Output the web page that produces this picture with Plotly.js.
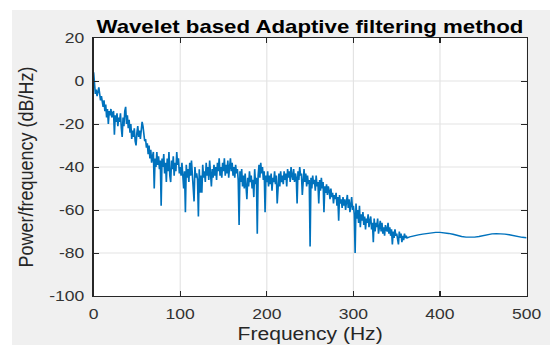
<!DOCTYPE html>
<html>
<head>
<meta charset="utf-8">
<script src="https://cdn.plot.ly/plotly-3.0.1.min.js"></script>
<style>
  html, body { margin: 0; padding: 0; background: #ffffff; overflow: hidden; }
  #chart { width: 470px; height: 345px; transform: scaleX(1.1702); transform-origin: 0 0; }
  #chart .gridlayer path { shape-rendering: geometricPrecision !important; }
</style>
</head>
<body>
<div id="chart"></div>
<script>
// Noisy part of the PSD: one value per 1 Hz bin, starting at 0 Hz (dB/Hz)
const noisyStartHz = 0;
const noisyStepHz = 1;
const psdNoisy = [
  4, -2, -6, -4, -7, -5, -3, -6, -9, -7,
  -10, -12, -9, -14, -11, -17, -13, -20, -14, -16,
  -13, -17, -15, -14, -25, -16, -19, -15, -21, -17,
  -19, -15, -22, -26, -17, -21, -14, -12, -20, -16,
  -22, -18, -24, -20, -27, -23, -26, -22, -28, -30,
  -24, -21, -26, -23, -27, -22, -19, -21, -25, -28,
  -27, -31, -29, -34, -30, -36, -32, -38, -35, -33,
  -50, -36, -40, -33, -39, -35, -41, -37, -58, -36,
  -40, -34, -43, -38, -47, -36, -42, -33, -44, -47,
  -37, -41, -35, -44, -38, -42, -33, -39, -36, -43,
  -40, -44, -38, -46, -50, -42, -61, -39, -45, -41,
  -47, -38, -44, -37, -42, -48, -56, -40, -45, -43,
  -46, -63, -41, -52, -44, -52, -39, -45, -42, -47,
  -38, -44, -40, -46, -37, -43, -49, -41, -45, -39,
  -44, -40, -46, -38, -42, -36, -44, -40, -45, -38,
  -42, -36, -44, -39, -43, -37, -45, -40, -36, -42,
  -38, -44, -40, -45, -39, -43, -41, -46, -67, -42,
  -47, -41, -49, -44, -50, -43, -48, -55, -45, -49,
  -42, -47, -44, -50, -46, -54, -41, -48, -45, -71,
  -44, -39, -45, -38, -43, -40, -46, -42, -61, -44,
  -47, -42, -49, -44, -48, -43, -51, -45, -47, -42,
  -48, -44, -57, -46, -43, -49, -42, -47, -44, -48,
  -42, -46, -43, -49, -41, -45, -42, -47, -40, -44,
  -46, -41, -47, -43, -45, -57, -42, -46, -40, -44,
  -43, -53, -45, -41, -47, -43, -49, -44, -48, -46,
  -77, -45, -50, -44, -48, -46, -51, -44, -49, -47,
  -57, -46, -51, -45, -50, -47, -61, -49, -52, -48,
  -53, -49, -51, -55, -50, -54, -52, -57, -53, -55,
  -52, -58, -54, -65, -53, -57, -55, -59, -54, -58,
  -55, -60, -56, -53, -59, -55, -61, -57, -54, -60,
  -58, -62, -80, -57, -64, -60, -66, -58, -68, -62,
  -65, -61, -67, -63, -69, -64, -66, -62, -68, -65,
  -63, -69, -66, -75, -64, -70, -66, -68, -64, -71,
  -67, -65, -70, -66, -71, -68, -72, -67, -69, -70,
  -66, -71, -68, -72, -69, -76, -70, -73, -69, -72,
  -71, -74, -76, -70, -73, -71, -75, -72, -74, -71,
  -73, -72, -73
];

// Smooth tail of the PSD (Hz, dB/Hz)
const freqTail = [365, 370, 375, 380, 385, 390, 395, 400, 405, 410, 415, 420, 425, 430, 435,
                  440, 445, 450, 455, 460, 465, 470, 475, 480, 485, 490, 495, 500];
const psdTail = [-72.5, -72.2, -71.6, -71.2, -70.9, -70.6, -70.4, -70.4, -70.5, -70.9, -71.3, -71.9, -72.3, -72.6, -72.7,
                 -72.6, -72.3, -71.8, -71.3, -71.1, -71.0, -71.0, -71.2, -71.5, -72.0, -72.4, -72.7, -72.9];

const xTickVals = [0, 100, 200, 300, 400, 500];
const yTickVals = [-100, -80, -60, -40, -20, 0, 20];

const freq = psdNoisy.map((_, i) => noisyStartHz + i * noisyStepHz).concat(freqTail);
const psd = psdNoisy.concat(psdTail);

const axisColor = '#262626';
const gridColor = '#e3e3e3';
const fontFam = '"Liberation Sans", Arial, Helvetica, sans-serif';

const trace = {
  x: freq, y: psd, type: 'scatter', mode: 'lines',
  line: { color: '#0072BD', width: 1.4 },
  hoverinfo: 'skip'
};

const layout = {
  width: 470, height: 345,
  margin: { l: 80, r: 20, t: 38, b: 49 },
  paper_bgcolor: '#f0f0f0',
  plot_bgcolor: '#ffffff',
  showlegend: false,
  font: { family: fontFam, color: axisColor, size: 15 },
  title: {
    text: '<b>Wavelet based Adaptive filtering method</b>',
    font: { family: fontFam, size: 19, color: '#000000' },
    x: 0.5635, xref: 'container', xanchor: 'center',
    y: 1 - 26 / 345, yref: 'container', yanchor: 'middle'
  },
  xaxis: {
    range: [0, 500], tickvals: xTickVals, ticktext: xTickVals.map(String),
    ticks: 'inside', ticklen: 5, tickcolor: axisColor, tickwidth: 1,
    showline: true, linecolor: axisColor, linewidth: 1, mirror: 'ticks',
    showgrid: true, gridcolor: gridColor, gridwidth: 1, zeroline: false,
    tickfont: { family: fontFam, size: 15, color: '#333333' },
    ticklabelstandoff: 4
  },
  yaxis: {
    range: [-100, 20], tickvals: yTickVals, ticktext: yTickVals.map(String),
    ticks: 'inside', ticklen: 5, tickcolor: axisColor, tickwidth: 1,
    showline: true, linecolor: axisColor, linewidth: 1, mirror: 'ticks',
    showgrid: true, gridcolor: gridColor, gridwidth: 1, zeroline: false,
    tickfont: { family: fontFam, size: 15, color: '#333333' },
    ticklabelstandoff: 4,
    title: { text: 'Power/frequency (dB/Hz)', font: { family: fontFam, size: 18, color: '#262626' }, standoff: 8 }
  },
  annotations: [
    { text: 'Frequency (Hz)', xref: 'paper', yref: 'paper', x: 0.5, y: -0.099,
      xanchor: 'center', yanchor: 'top', showarrow: false,
      font: { family: fontFam, size: 18, color: '#262626' } }
  ],
  shapes: [
    { type: 'rect', xref: 'paper', yref: 'paper', x0: -0.25, x1: 1.1, y0: 296 / 258 - 10 / 258, y1: 1.2,
      fillcolor: '#ffffff', line: { width: 0 }, layer: 'below' },
    { type: 'rect', xref: 'paper', yref: 'paper', x0: -0.25, x1: -0.1885, y0: -0.25, y1: 1.2,
      fillcolor: '#ffffff', line: { width: 0 }, layer: 'below' }
  ]
};

Plotly.newPlot('chart', [trace], layout, { displayModeBar: false, staticPlot: true });
</script>
</body>
</html>
